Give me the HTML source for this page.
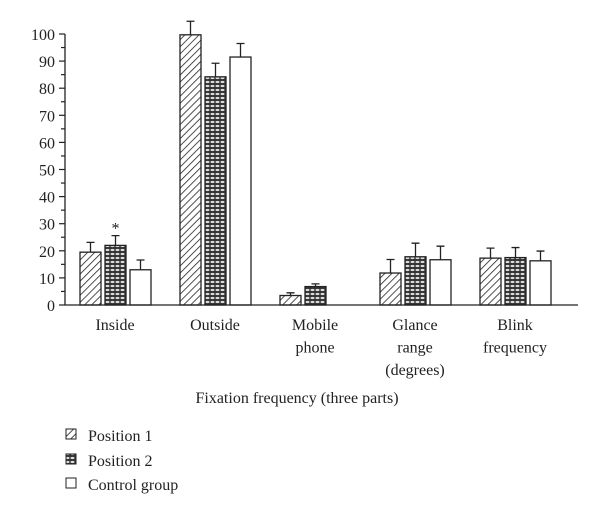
<!DOCTYPE html>
<html><head><meta charset="utf-8"><style>
body{margin:0;background:#fff}
svg text{font-family:"Liberation Serif",serif;fill:#222}
</style></head><body>
<svg width="600" height="515" viewBox="0 0 600 515" xmlns="http://www.w3.org/2000/svg">
<defs>
<pattern id="hatch" patternUnits="userSpaceOnUse" width="5" height="5" patternTransform="rotate(45)">
<rect width="5" height="5" fill="#fff"/><line x1="0" y1="0" x2="0" y2="5" stroke="#222" stroke-width="1.6"/>
</pattern>
<pattern id="mesh" patternUnits="userSpaceOnUse" width="5" height="4">
<rect width="5" height="4" fill="#333"/><ellipse cx="2.5" cy="2" rx="2" ry="1.1" fill="#ddd"/>
</pattern>
</defs>
<g id="yaxis"></g>
<g id="bars"></g>
<g id="xaxis"></g>
<text x="297" y="403" text-anchor="middle" font-size="16">Fixation frequency (three parts)</text>
<g>
<rect x="66" y="429" width="10" height="10" fill="url(#hatch)" stroke="#222"/>
<text x="88" y="441" font-size="16">Position 1</text>
<rect x="66" y="454" width="10" height="10" fill="url(#mesh)" stroke="#222"/>
<text x="88" y="466" font-size="16">Position 2</text>
<rect x="66" y="478" width="10" height="10" fill="#fff" stroke="#222"/>
<text x="88" y="490" font-size="16">Control group</text>
</g>
</svg>
<script>
const categories=[["Inside"],["Outside"],["Mobile","phone"],["Glance","range","(degrees)"],["Blink","frequency"]];
const pos1=[19.5,99.7,3.5,11.8,17.3];
const pos1Err=[3.6,5,1,5,3.7];
const pos2=[22,84.2,6.8,17.8,17.5];
const pos2Err=[3.6,5,1,5,3.7];
const control=[13,91.5,0,16.7,16.3];
const controlErr=[3.6,5,0,5,3.6];
const yTicks=[0,10,20,30,40,50,60,70,80,90,100];
const NS="http://www.w3.org/2000/svg";
const y0=305,y100=34,xL=65,xR=578;
function yS(v){return y0-(y0-y100)*v/100;}
function gX(i){return 80+100*i;}
function mk(t,a,p){const e=document.createElementNS(NS,t);for(const k in a)e.setAttribute(k,a[k]);p.appendChild(e);return e;}
const ya=document.getElementById('yaxis');
const ln=mk('line',{x1:xL,y1:yS(0),x2:xL,y2:yS(100),stroke:'#222','stroke-width':1.3},ya);


for(let v=0;v<=100;v+=5){const t=mk('line',{x1:xL-(v%10?4:6),y1:yS(v),x2:xL,y2:yS(v),stroke:'#222','stroke-width':1.2},ya);

}
yTicks.forEach(v=>{const t=mk('text',{x:xL-10,y:yS(v)+6,'text-anchor':'end','font-size':16},ya);t.textContent=v;

});
const xa=document.getElementById('xaxis');
const xl=mk('line',{x1:xL,y1:y0,x2:xR,y2:y0,stroke:'#222','stroke-width':1.3},xa);


categories.forEach((c,i)=>{c.forEach((s,j)=>{const t=mk('text',{x:gX(i)+35,y:330+j*22.5,'text-anchor':'middle','font-size':16},xa);t.textContent=s;

});});
const bg=document.getElementById('bars');
const series=[[pos1,pos1Err,'url(#hatch)','position-1'],[pos2,pos2Err,'url(#mesh)','position-2'],[control,controlErr,'#fff','control']];
series.forEach((s,k)=>{s[0].forEach((v,i)=>{if(v<=0)return;
const x=gX(i)+k*25,w=21;
const r=mk('rect',{x:x,y:yS(v),width:w,height:y0-yS(v),fill:s[2],stroke:'#222','stroke-width':1.3},bg);


const e=s[1][i];const cx=x+w/2;
const eb=mk('path',{d:`M${cx},${yS(v)}V${yS(v+e)}M${cx-4},${yS(v+e)}H${cx+4}`,stroke:'#222','stroke-width':1.3,fill:'none'},bg);

});});
const st=mk('text',{x:gX(0)+25+10.5,y:yS(pos2[0]+pos2Err[0])-2,'text-anchor':'middle','font-size':16},bg);st.textContent='*';


</script>
</body></html>
